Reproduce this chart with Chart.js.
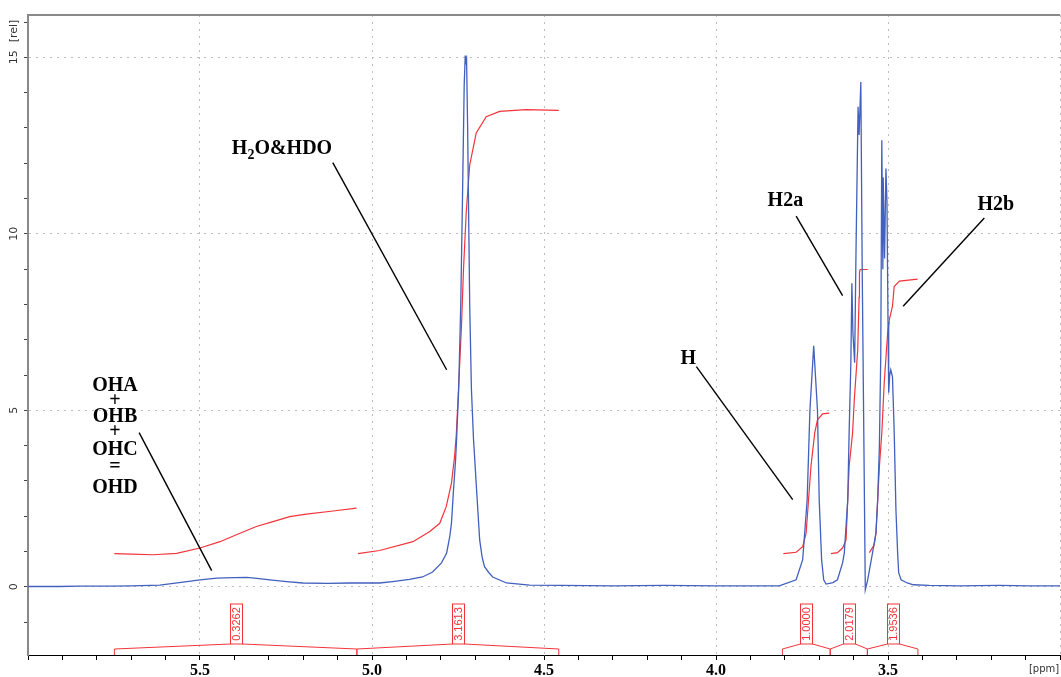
<!DOCTYPE html>
<html>
<head>
<meta charset="utf-8">
<script src="https://cdn.jsdelivr.net/npm/chart.js@4.4.0/dist/chart.umd.min.js"></script>
<style>
  html, body { margin: 0; padding: 0; background: #fff; }
  #wrap { width: 1061px; height: 677px; }
</style>
</head>
<body>
<div id="wrap"><canvas id="nmr" width="1061" height="677"></canvas></div>
<script>
// 1H spectrum (blue): chemical shift [ppm] / intensity [rel]
const specPpm = [6.000, 5.907, 5.850, 5.762, 5.700, 5.617, 5.538, 5.500, 5.451, 5.400, 5.364, 5.335, 5.290, 5.248, 5.201, 5.130, 5.065,
  4.978, 4.940, 4.891, 4.853, 4.824, 4.798, 4.783, 4.774, 4.769, 4.763, 4.757, 4.754, 4.748, 4.742, 4.737, 4.732, 4.729, 4.727, 4.725,
  4.722, 4.719, 4.716, 4.711, 4.705, 4.696, 4.687, 4.680, 4.673, 4.660, 4.649, 4.609, 4.542, 4.450, 4.300, 4.150, 4.000, 3.900, 3.816,
  3.767, 3.748, 3.735, 3.727, 3.716, 3.705, 3.700, 3.693, 3.687, 3.680, 3.660, 3.647, 3.632, 3.627, 3.617, 3.613, 3.608, 3.605, 3.602,
  3.597, 3.593, 3.587, 3.584, 3.579, 3.575, 3.570, 3.566, 3.559, 3.545, 3.535, 3.530, 3.525, 3.521, 3.518, 3.515, 3.514, 3.510, 3.506,
  3.503, 3.500, 3.498, 3.495, 3.492, 3.487, 3.482, 3.477, 3.472, 3.469, 3.462, 3.444, 3.426, 3.380, 3.293, 3.177, 3.090, 3.000];
const specInt = [0.01, 0.01, 0.02, 0.02, 0.03, 0.05, 0.15, 0.20, 0.25, 0.26, 0.27, 0.24, 0.19, 0.15, 0.11, 0.10, 0.11,
  0.11, 0.15, 0.21, 0.28, 0.42, 0.68, 0.96, 1.42, 1.80, 2.75, 3.60, 4.20, 5.60, 8.00, 11.0, 14.2, 15.05, 14.8, 14.9,
  13.0, 10.5, 8.0, 5.6, 4.2, 2.75, 1.33, 0.85, 0.57, 0.40, 0.28, 0.11, 0.05, 0.04, 0.03, 0.04, 0.03, 0.03, 0.03,
  0.20, 0.77, 2.47, 5.00, 6.83, 5.00, 2.47, 0.77, 0.20, 0.08, 0.12, 0.20, 0.68, 0.96, 2.47, 4.37, 6.35, 8.60, 7.20,
  6.35, 9.50, 13.6, 12.8, 14.3, 9.0, 4.0, -0.08, 0.20, 0.96, 1.53, 2.47, 4.0, 6.6, 12.65, 9.0, 11.6, 9.3, 11.85,
  10.9, 7.5, 5.5, 6.0, 6.15, 5.95, 4.4, 2.2, 0.96, 0.40, 0.20, 0.11, 0.06, 0.04, 0.03, 0.04, 0.03, 0.03];

// integral curves (red)
const intOhPpm = [5.749, 5.700, 5.636, 5.568, 5.500, 5.442, 5.384, 5.336, 5.288, 5.239, 5.191, 5.113, 5.045];
const intOhVal = [0.94, 0.93, 0.91, 0.95, 1.10, 1.28, 1.52, 1.71, 1.85, 1.99, 2.06, 2.15, 2.23];
const intWaterPpm = [5.041, 4.978, 4.881, 4.832, 4.803, 4.784, 4.769, 4.760, 4.755, 4.750, 4.740, 4.734, 4.726, 4.716, 4.697, 4.668, 4.629, 4.552, 4.457];
const intWaterVal = [0.94, 1.03, 1.28, 1.57, 1.80, 2.28, 2.94, 3.69, 4.31, 5.30, 7.37, 9.00, 10.62, 11.95, 12.86, 13.32, 13.47, 13.52, 13.50];
const intHPpm = [3.804, 3.767, 3.748, 3.738, 3.731, 3.724, 3.713, 3.705, 3.690, 3.671];
const intHVal = [0.94, 0.98, 1.14, 1.52, 2.47, 3.41, 4.36, 4.73, 4.90, 4.92];
const intH2aPpm = [3.666, 3.647, 3.632, 3.622, 3.617, 3.613, 3.603, 3.598, 3.588, 3.584, 3.583, 3.581, 3.559];
const intH2aVal = [0.94, 0.97, 1.10, 1.33, 2.47, 3.41, 4.36, 5.30, 6.72, 8.20, 8.90, 8.99, 8.99];
const intH2bPpm = [3.554, 3.540, 3.535, 3.530, 3.525, 3.518, 3.511, 3.501, 3.496, 3.487, 3.482, 3.467, 3.414];
const intH2bVal = [0.97, 1.19, 1.52, 2.47, 3.41, 4.36, 5.78, 7.19, 7.57, 7.95, 8.51, 8.66, 8.72];

// integration regions (bottom brackets)
const regionFrom = [5.749, 5.044, 3.807, 3.668, 3.560];
const regionTo = [5.044, 4.457, 3.668, 3.560, 3.413];
const regionValue = ['0.3262', '3.1613', '1.0000', '2.0179', '1.9536'];

// axes
const yTickValues = [-1, 0, 1, 2, 3, 4, 5, 6, 7, 8, 9, 10, 11, 12, 13, 14, 15, 16];
const yTickLabels = [0, 5, 10, 15];

// peak assignments: text anchor and pointer line, in ppm / rel
const notes = [
  { text: ['OHA', '+', 'OHB', '+', 'OHC', '=', 'OHD'], x: 5.747, y: [5.70, 5.27, 4.82, 4.40, 3.89, 3.40, 2.81], center: true,
    line: [5.677, 4.37, 5.466, 0.46] },
  { text: ['H2O&HDO'], x: 5.4075, y: [12.25], sub: true, line: [5.114, 12.02, 4.783, 6.15] },
  { text: ['H'], x: 4.103, y: [6.32], line: [4.057, 6.24, 3.777, 2.47] },
  { text: ['H2a'], x: 3.850, y: [10.78], line: [3.767, 10.5, 3.632, 8.25] },
  { text: ['H2b'], x: 3.240, y: [10.67], line: [3.220, 10.45, 3.456, 7.95] }
];

const RED = 'rgb(242,52,58)';
const BLUE = 'rgb(66,96,190)';
const pts = (xs, ys) => xs.map((x, i) => ({ x: x, y: ys[i] }));
const redSet = (xs, ys) => ({ data: pts(xs, ys), borderColor: RED, borderWidth: 1.2, pointRadius: 0, tension: 0 });

const decor = {
  id: 'decor',
  afterDraw(chart) {
    const { ctx, chartArea: a, scales: { x, y } } = chart;
    ctx.save();
    // top frame
    ctx.strokeStyle = '#8a8a8a';
    ctx.lineWidth = 2;
    ctx.beginPath();
    ctx.moveTo(a.left, a.top);
    ctx.lineTo(a.right, a.top);
    ctx.stroke();

    // y labels, rotated
    ctx.fillStyle = '#333';
    ctx.font = '11px "DejaVu Sans"';
    ctx.textAlign = 'center';
    ctx.textBaseline = 'middle';
    const rot = (t, px, py) => { ctx.save(); ctx.translate(px, py); ctx.rotate(-Math.PI / 2); ctx.fillText(t, 0, 0); ctx.restore(); };
    yTickLabels.forEach(v => rot(String(v), 14, y.getPixelForValue(v)));
    rot('[rel]', 14, a.top + 16);
    ctx.font = '10px "DejaVu Sans"';
    ctx.fillText('[ppm]', 1044, 669);

    // integral regions
    ctx.strokeStyle = RED;
    ctx.fillStyle = RED;
    ctx.lineWidth = 1;
    ctx.font = '11px "Liberation Sans"';
    const b = a.bottom;
    regionFrom.forEach((f, i) => {
      const x1 = x.getPixelForValue(f), x2 = x.getPixelForValue(regionTo[i]);
      const xc = Math.round((x1 + x2) / 2) + 0.5;
      ctx.beginPath();
      ctx.moveTo(x1, b);
      ctx.lineTo(x1, b - 6);
      ctx.lineTo(xc - 6, b - 11);
      ctx.moveTo(xc + 6, b - 11);
      ctx.lineTo(x2, b - 6);
      ctx.lineTo(x2, b);
      ctx.stroke();
      ctx.strokeRect(xc - 6, b - 51, 12, 40);
      rot(regionValue[i], xc + 0.5, b - 31);
    });

    // assignments
    ctx.strokeStyle = '#000';
    ctx.fillStyle = '#000';
    ctx.lineWidth = 1.4;
    notes.forEach(n => {
      const l = n.line;
      ctx.beginPath();
      ctx.moveTo(x.getPixelForValue(l[0]), y.getPixelForValue(l[1]));
      ctx.lineTo(x.getPixelForValue(l[2]), y.getPixelForValue(l[3]));
      ctx.stroke();
      const px = x.getPixelForValue(n.x);
      n.text.forEach((t, j) => {
        const py = y.getPixelForValue(n.y[j]);
        ctx.font = 'bold 20px "Liberation Serif"';
        if (n.center) {
          ctx.textAlign = 'center';
          ctx.textBaseline = 'middle';
          ctx.fillText(t, px, py);
        } else if (n.sub) {
          ctx.textAlign = 'left';
          ctx.textBaseline = 'alphabetic';
          ctx.fillText('H', px, py);
          let cx = px + ctx.measureText('H').width;
          ctx.font = 'bold 14px "Liberation Serif"';
          ctx.fillText('2', cx, py + 5);
          cx += ctx.measureText('2').width;
          ctx.font = 'bold 20px "Liberation Serif"';
          ctx.fillText('O&HDO', cx, py);
        } else {
          ctx.textAlign = 'left';
          ctx.textBaseline = 'alphabetic';
          ctx.fillText(t, px, py);
        }
      });
    });
    ctx.restore();
  }
};

new Chart(document.getElementById('nmr'), {
  type: 'line',
  data: {
    datasets: [
      { data: pts(specPpm, specInt), borderColor: BLUE, borderWidth: 1.3, pointRadius: 0, tension: 0 },
      redSet(intOhPpm, intOhVal),
      redSet(intWaterPpm, intWaterVal),
      redSet(intHPpm, intHVal),
      redSet(intH2aPpm, intH2aVal),
      redSet(intH2bPpm, intH2bVal)
    ]
  },
  options: {
    responsive: false,
    animation: false,
    devicePixelRatio: 1,
    layout: { padding: { top: 15, right: 0, left: 0, bottom: 0 } },
    plugins: { legend: { display: false }, tooltip: { enabled: false } },
    scales: {
      x: {
        type: 'linear',
        reverse: true,
        min: 3.0,
        max: 6.0,
        afterFit: s => { s.height = 22; },
        ticks: {
          stepSize: 0.1,
          autoSkip: false,
          maxRotation: 0,
          padding: 1,
          color: '#000',
          font: { family: '"Liberation Serif"', size: 16, weight: 'bold' },
          callback: v => {
            const r = Math.round(v * 10);
            return (r % 5 === 0 && r > 30 && r < 60) ? (r / 10).toFixed(1) : '';
          }
        },
        grid: {
          color: c => (Math.round(c.tick.value * 10) % 5 === 0 ? '#bdbdbd' : 'rgba(0,0,0,0)'),
          tickColor: '#000',
          tickLength: 5,
          lineWidth: 1
        },
        border: { color: '#000', width: 1, dash: [2, 5] }
      },
      y: {
        type: 'linear',
        min: -1.93,
        max: 16.2,
        afterFit: s => { s.width = 28; },
        afterBuildTicks: s => { s.ticks = yTickValues.map(v => ({ value: v })); },
        ticks: { display: false },
        grid: {
          color: c => (c.tick && c.tick.value % 5 === 0 ? '#bdbdbd' : 'rgba(0,0,0,0)'),
          tickColor: '#444',
          tickLength: 4,
          lineWidth: 1
        },
        border: { color: '#8a8a8a', width: 2, dash: [2, 5] }
      }
    }
  },
  plugins: [decor]
});
</script>
</body>
</html>
